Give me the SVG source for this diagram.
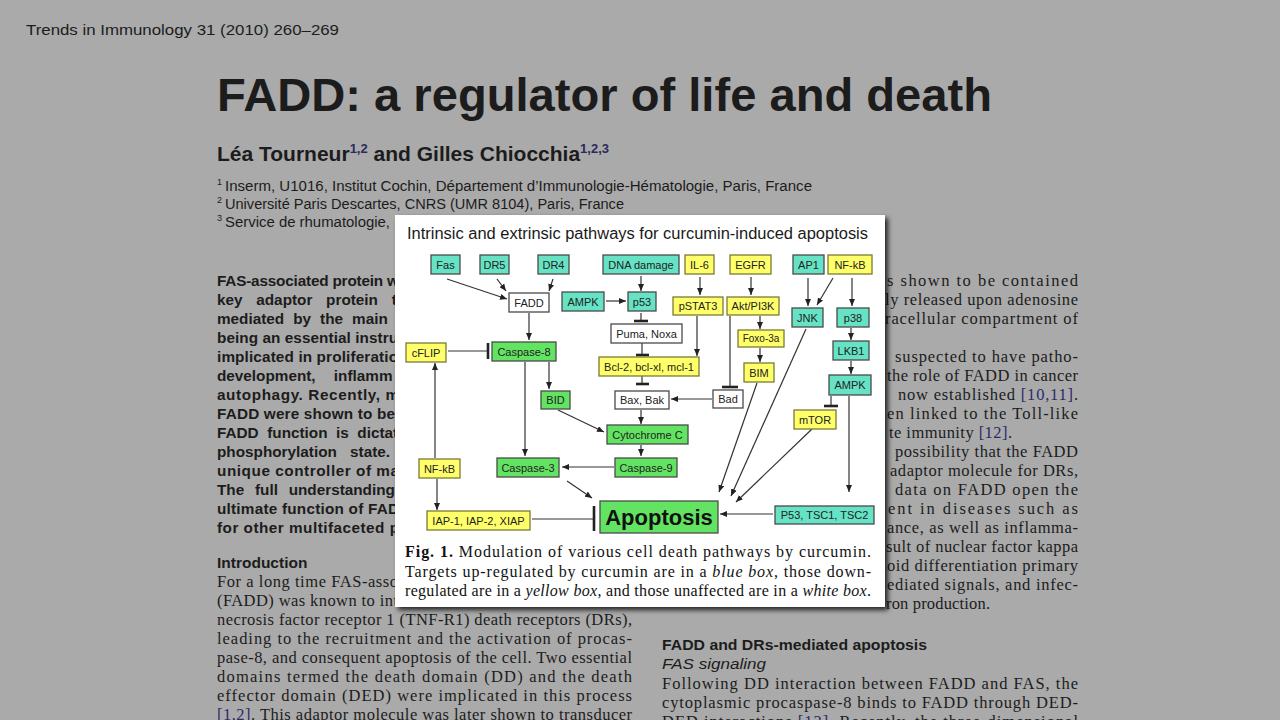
<svg xmlns="http://www.w3.org/2000/svg" width="1280" height="720" viewBox="0 0 1280 720">
<defs>
<style>
.pg{fill:#1c1c1c}
.sans{font-family:"Liberation Sans",Arial,sans-serif}
.serif{font-family:"Liberation Serif","Times New Roman",serif}
.ab{font-family:"Liberation Sans",Arial,sans-serif;font-weight:bold;font-size:15.3px;fill:#1c1c1c}
.bd{font-family:"Liberation Serif","Times New Roman",serif;font-size:16.5px;fill:#1c1c1c}
.sup{font-size:13px;fill:#2a2a5a}
.node rect{stroke:#4a4a4a;stroke-width:1.3}
.node text{font-family:"Liberation Sans",Arial,sans-serif;font-size:11px;fill:#222;text-anchor:middle}
.cy rect{fill:#66e3c4}
.gr rect{fill:#62e462}
.ye rect{fill:#ffff6a;stroke:#7a7a38}
.wh rect{fill:#ffffff}
.cn path{stroke:#333;stroke-width:1.2;fill:none}
.cn .bar{stroke:#222;stroke-width:2.6}
.cap{font-family:"Liberation Serif","Times New Roman",serif;font-size:16px;fill:#111}
</style>
<marker id="ah" markerWidth="7" markerHeight="6" refX="7" refY="3" orient="auto" markerUnits="userSpaceOnUse"><path d="M0,0 L7,3 L0,6 z" fill="#222"/></marker>
<filter id="sh" x="-5%" y="-5%" width="112%" height="115%"><feDropShadow dx="3" dy="3" stdDeviation="2.5" flood-color="#000" flood-opacity="0.8"/></filter>
</defs>
<rect width="1280" height="720" fill="#aaaaaa"/>

<g id="page">
<text x="26" y="35" class="sans pg" font-size="15" textLength="313" lengthAdjust="spacingAndGlyphs">Trends in Immunology 31 (2010) 260–269</text>
<text x="217" y="111" class="sans pg" font-size="47" font-weight="bold" textLength="775" lengthAdjust="spacingAndGlyphs">FADD: a regulator of life and death</text>
<text x="217" y="161" class="sans pg" font-size="21" font-weight="bold">Léa Tourneur<tspan class="sup" dy="-8">1,2</tspan><tspan dy="8"> and Gilles Chiocchia</tspan><tspan class="sup" dy="-8">1,2,3</tspan></text>
<text x="217" y="185" class="sans pg" font-size="9">1</text>
<text x="225" y="191" class="sans pg" font-size="14" textLength="587" lengthAdjust="spacingAndGlyphs">Inserm, U1016, Institut Cochin, Département d’Immunologie-Hématologie, Paris, France</text>
<text x="217" y="203" class="sans pg" font-size="9">2</text>
<text x="225" y="209" class="sans pg" font-size="14" textLength="399" lengthAdjust="spacingAndGlyphs">Université Paris Descartes, CNRS (UMR 8104), Paris, France</text>
<text x="217" y="221" class="sans pg" font-size="9">3</text>
<text x="225" y="227" class="sans pg" font-size="14" textLength="165" lengthAdjust="spacingAndGlyphs">Service de rhumatologie,</text>

<text x="217" y="286" class="ab" textLength="182" lengthAdjust="spacing">FAS-associated protein w</text>
<text x="217" y="305" class="ab" word-spacing="9.5">key adaptor protein t</text>
<text x="217" y="324" class="ab" word-spacing="4.8">mediated by the main</text>
<text x="217" y="343" class="ab" textLength="181" lengthAdjust="spacing">being an essential instru</text>
<text x="217" y="362" class="ab" textLength="181" lengthAdjust="spacing">implicated in proliferatio</text>
<text x="217" y="381" class="ab" word-spacing="14">development, inflamm</text>
<text x="217" y="400" class="ab" textLength="182" lengthAdjust="spacing">autophagy. Recently, m</text>
<text x="217" y="419" class="ab" textLength="178" lengthAdjust="spacing">FADD were shown to be</text>
<text x="217" y="438" class="ab" word-spacing="4.3">FADD function is dictat</text>
<text x="217" y="457" class="ab" word-spacing="9">phosphorylation state.</text>
<text x="217" y="476" class="ab" textLength="182" lengthAdjust="spacing">unique controller of ma</text>
<text x="217" y="495" class="ab" word-spacing="6.5">The full understanding</text>
<text x="217" y="514" class="ab" textLength="182" lengthAdjust="spacing">ultimate function of FAD</text>
<text x="217" y="533" class="ab" textLength="182" lengthAdjust="spacing">for other multifaceted p</text>

<text x="217" y="568" class="sans pg" font-size="15.5" font-weight="bold">Introduction</text>
<text x="217" y="587" class="bd" textLength="181" lengthAdjust="spacing">For a long time FAS-asso</text>
<text x="217" y="606" class="bd" textLength="181" lengthAdjust="spacing">(FADD) was known to int</text>
<text x="217" y="625" class="bd" textLength="415" lengthAdjust="spacing">necrosis factor receptor 1 (TNF-R1) death receptors (DRs),</text>
<text x="217" y="644" class="bd" textLength="415" lengthAdjust="spacing">leading to the recruitment and the activation of procas-</text>
<text x="217" y="663" class="bd" textLength="415" lengthAdjust="spacing">pase-8, and consequent apoptosis of the cell. Two essential</text>
<text x="217" y="682" class="bd" textLength="415" lengthAdjust="spacing">domains termed the death domain (DD) and the death</text>
<text x="217" y="701" class="bd" textLength="415" lengthAdjust="spacing">effector domain (DED) were implicated in this process</text>
<text x="217" y="720" class="bd" textLength="415" lengthAdjust="spacing"><tspan fill="#2a2a6a">[1,2]</tspan>. This adaptor molecule was later shown to transducer</text>

<text x="887" y="286" class="bd" textLength="191" lengthAdjust="spacing">s shown to be contained</text>
<text x="885" y="305" class="bd" textLength="193" lengthAdjust="spacing">ly released upon adenosine</text>
<text x="885" y="324" class="bd" textLength="193" lengthAdjust="spacing">racellular compartment of</text>
<text x="895" y="362" class="bd" textLength="183" lengthAdjust="spacing">suspected to have patho-</text>
<text x="887" y="381" class="bd" textLength="191" lengthAdjust="spacing">the role of FADD in cancer</text>
<text x="898" y="400" class="bd" textLength="180" lengthAdjust="spacing">now established <tspan fill="#2a2a6a">[10,11]</tspan>.</text>
<text x="887" y="419" class="bd" textLength="191" lengthAdjust="spacing">en linked to the Toll-like</text>
<text x="889" y="438" class="bd" textLength="123" lengthAdjust="spacing">te immunity <tspan fill="#2a2a6a">[12]</tspan>.</text>
<text x="895" y="457" class="bd" textLength="183" lengthAdjust="spacing">possibility that the FADD</text>
<text x="890" y="476" class="bd" textLength="188" lengthAdjust="spacing">adaptor molecule for DRs,</text>
<text x="895" y="495" class="bd" textLength="183" lengthAdjust="spacing">data on FADD open the</text>
<text x="888" y="514" class="bd" textLength="190" lengthAdjust="spacing">ent in diseases such as</text>
<text x="887" y="533" class="bd" textLength="191" lengthAdjust="spacing">ance, as well as inflamma-</text>
<text x="886" y="552" class="bd" textLength="192" lengthAdjust="spacing">sult of nuclear factor kappa</text>
<text x="887" y="571" class="bd" textLength="191" lengthAdjust="spacing">oid differentiation primary</text>
<text x="887" y="590" class="bd" textLength="191" lengthAdjust="spacing">ediated signals, and infec-</text>
<text x="886" y="609" class="bd" textLength="104" lengthAdjust="spacing">ron production.</text>

<text x="662" y="650" class="sans pg" font-size="15.5" font-weight="bold" textLength="265" lengthAdjust="spacingAndGlyphs">FADD and DRs-mediated apoptosis</text>
<text x="662" y="669" class="sans pg" font-size="15.5" font-style="italic" textLength="104" lengthAdjust="spacingAndGlyphs">FAS signaling</text>
<text x="662" y="689" class="bd" textLength="416" lengthAdjust="spacing">Following DD interaction between FADD and FAS, the</text>
<text x="662" y="708" class="bd" textLength="416" lengthAdjust="spacing">cytoplasmic procaspase-8 binds to FADD through DED-</text>
<text x="662" y="727" class="bd" textLength="416" lengthAdjust="spacing">DED interactions <tspan fill="#2a2a6a">[13]</tspan>. Recently, the three-dimensional</text>
</g>

<rect id="panel" x="395" y="215" width="490" height="392" fill="#ffffff" filter="url(#sh)"/>
<text x="407" y="239" class="sans" font-size="16" fill="#1a1a1a" textLength="461" lengthAdjust="spacingAndGlyphs">Intrinsic and extrinsic pathways for curcumin-induced apoptosis</text>

<g id="connectors" class="cn">
<path d="M447,279 L507,299" marker-end="url(#ah)"/>
<path d="M497,279 L506,291" marker-end="url(#ah)"/>
<path d="M553,279 L549,291" marker-end="url(#ah)"/>
<path d="M641,276 L641,291" marker-end="url(#ah)"/>
<path d="M606,301 L626,301" marker-end="url(#ah)"/>
<path d="M700,277 L700,295" marker-end="url(#ah)"/>
<path d="M751,277 L751,295" marker-end="url(#ah)"/>
<path d="M808,278 L808,306" marker-end="url(#ah)"/>
<path d="M833,278 L817,305" marker-end="url(#ah)"/>
<path d="M852,278 L852,306" marker-end="url(#ah)"/>
<path d="M529,313 L529,340" marker-end="url(#ah)"/>
<path d="M697,316 L697,356" marker-end="url(#ah)"/>
<path d="M760,316 L760,329" marker-end="url(#ah)"/>
<path d="M760,348 L760,362" marker-end="url(#ah)"/>
<path d="M712,399 L671,399" marker-end="url(#ah)"/>
<path d="M641,410 L641,424" marker-end="url(#ah)"/>
<path d="M757,383 L719,492" marker-end="url(#ah)"/>
<path d="M806,329 L731,496" marker-end="url(#ah)"/>
<path d="M812,429 L736,502" marker-end="url(#ah)"/>
<path d="M851,328 L851,340" marker-end="url(#ah)"/>
<path d="M851,361 L851,374" marker-end="url(#ah)"/>
<path d="M849,396 L849,492" marker-end="url(#ah)"/>
<path d="M773,514 L720,514" marker-end="url(#ah)"/>
<path d="M525,362 L525,456" marker-end="url(#ah)"/>
<path d="M549,362 L549,389" marker-end="url(#ah)"/>
<path d="M558,410 L604,432" marker-end="url(#ah)"/>
<path d="M641,445 L641,456" marker-end="url(#ah)"/>
<path d="M614,467 L562,467" marker-end="url(#ah)"/>
<path d="M567,481 L592,498" marker-end="url(#ah)"/>
<path d="M435,458 L435,363" marker-end="url(#ah)"/>
<path d="M437,479 L437,510" marker-end="url(#ah)"/>
<path d="M641,313 L641,321"/><path class="bar" d="M634,321 L648,321"/>
<path d="M642,343 L642,355"/><path class="bar" d="M636,355 L649,355"/>
<path d="M642,376 L642,384"/><path class="bar" d="M636,384 L649,384"/>
<path d="M730,316 L730,387"/><path class="bar" d="M722,387 L738,387"/>
<path d="M831,396 L831,406"/><path class="bar" d="M824,406 L838,406"/>
<path d="M448,351 L487,351"/><path class="bar" d="M488,343 L488,359"/>
<path d="M532,519 L593,519"/><path class="bar" d="M594,506 L594,531"/>
</g>

<g id="n-fas" class="node cy"><rect x="431" y="255" width="29" height="19"/><text x="445.5" y="268.5">Fas</text></g>
<g id="n-dr5" class="node cy"><rect x="480" y="255" width="29" height="19"/><text x="494.5" y="268.5">DR5</text></g>
<g id="n-dr4" class="node cy"><rect x="538" y="255" width="31" height="19"/><text x="553.5" y="268.5">DR4</text></g>
<g id="n-dna" class="node cy"><rect x="603" y="255" width="76" height="19"/><text x="641" y="268.5">DNA damage</text></g>
<g id="n-il6" class="node ye"><rect x="685" y="255" width="29" height="19"/><text x="699.5" y="268.5">IL-6</text></g>
<g id="n-egfr" class="node ye"><rect x="730" y="255" width="41" height="19"/><text x="750.5" y="268.5">EGFR</text></g>
<g id="n-ap1" class="node cy"><rect x="793" y="255" width="31" height="19"/><text x="808.5" y="268.5">AP1</text></g>
<g id="n-nfkb1" class="node ye"><rect x="828" y="255" width="44" height="19"/><text x="850" y="268.5">NF-kB</text></g>
<g id="n-fadd" class="node wh"><rect x="509" y="293" width="40" height="19"/><text x="529" y="306.5">FADD</text></g>
<g id="n-ampk1" class="node cy"><rect x="562" y="292" width="42" height="19"/><text x="583" y="305.5">AMPK</text></g>
<g id="n-p53" class="node cy"><rect x="628" y="292" width="28" height="19"/><text x="642" y="305.5">p53</text></g>
<g id="n-pstat3" class="node ye"><rect x="673" y="297" width="50" height="18"/><text x="698" y="310">pSTAT3</text></g>
<g id="n-akt" class="node ye"><rect x="727" y="297" width="52" height="18"/><text x="753" y="310">Akt/PI3K</text></g>
<g id="n-jnk" class="node cy"><rect x="792" y="308" width="31" height="19"/><text x="807.5" y="321.5">JNK</text></g>
<g id="n-p38" class="node cy"><rect x="837" y="308" width="32" height="19"/><text x="853" y="321.5">p38</text></g>
<g id="n-puma" class="node wh"><rect x="611" y="324" width="71" height="19"/><text x="646.5" y="337.5">Puma, Noxa</text></g>
<g id="n-foxo" class="node ye"><rect x="738" y="330" width="46" height="17"/><text x="761" y="342" style="font-size:10px">Foxo-3a</text></g>
<g id="n-cflip" class="node ye"><rect x="406" y="343" width="40" height="19"/><text x="426" y="356.5">cFLIP</text></g>
<g id="n-casp8" class="node gr"><rect x="492" y="342" width="64" height="19"/><text x="524" y="355.5">Caspase-8</text></g>
<g id="n-lkb1" class="node cy"><rect x="833" y="341" width="36" height="19"/><text x="851" y="354.5">LKB1</text></g>
<g id="n-bcl2" class="node ye"><rect x="599" y="357" width="100" height="19"/><text x="649" y="370.5">Bcl-2, bcl-xl, mcl-1</text></g>
<g id="n-bim" class="node ye"><rect x="744" y="363" width="30" height="19"/><text x="759" y="376.5">BIM</text></g>
<g id="n-ampk2" class="node cy"><rect x="829" y="375" width="42" height="20"/><text x="850" y="389">AMPK</text></g>
<g id="n-bid" class="node gr"><rect x="541" y="391" width="29" height="18"/><text x="555.5" y="404">BID</text></g>
<g id="n-bax" class="node wh"><rect x="615" y="391" width="54" height="18"/><text x="642" y="404">Bax, Bak</text></g>
<g id="n-bad" class="node wh"><rect x="713" y="390" width="30" height="18"/><text x="728" y="403">Bad</text></g>
<g id="n-mtor" class="node ye"><rect x="794" y="410" width="42" height="19"/><text x="815" y="423.5">mTOR</text></g>
<g id="n-cytc" class="node gr"><rect x="607" y="425" width="81" height="19"/><text x="647.5" y="438.5">Cytochrome C</text></g>
<g id="n-nfkb2" class="node ye"><rect x="419" y="459" width="41" height="19"/><text x="439.5" y="472.5">NF-kB</text></g>
<g id="n-casp3" class="node gr"><rect x="497" y="458" width="62" height="19"/><text x="528" y="471.5">Caspase-3</text></g>
<g id="n-casp9" class="node gr"><rect x="615" y="458" width="62" height="19"/><text x="646" y="471.5">Caspase-9</text></g>
<g id="n-iap" class="node ye"><rect x="427" y="511" width="103" height="19"/><text x="478.5" y="524.5">IAP-1, IAP-2, XIAP</text></g>
<g id="n-apop" class="node gr"><rect x="600" y="501" width="118" height="32"/><text x="659" y="525" style="font-size:22px;font-weight:bold;fill:#111">Apoptosis</text></g>
<g id="n-p53tsc" class="node cy"><rect x="775" y="506" width="99" height="18"/><text x="824.5" y="519">P53, TSC1, TSC2</text></g>

<g id="caption">
<text x="405" y="557" class="cap" textLength="466" lengthAdjust="spacing"><tspan font-weight="bold">Fig. 1.</tspan> Modulation of various cell death pathways by curcumin.</text>
<text x="405" y="577" class="cap" textLength="466" lengthAdjust="spacing">Targets up-regulated by curcumin are in a <tspan font-style="italic">blue box</tspan>, those down-</text>
<text x="405" y="596" class="cap" textLength="466" lengthAdjust="spacing">regulated are in a <tspan font-style="italic">yellow box</tspan>, and those unaffected are in a <tspan font-style="italic">white box</tspan>.</text>
</g>
</svg>
